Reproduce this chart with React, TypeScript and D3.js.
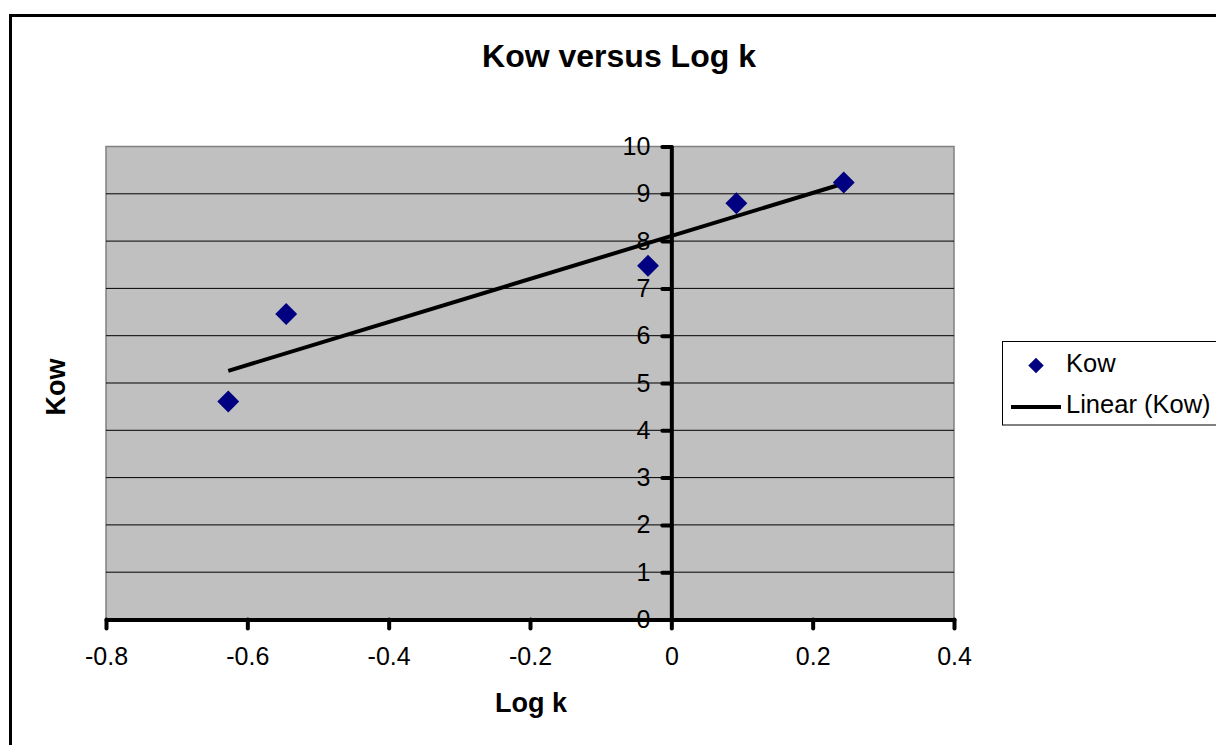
import React, { useEffect, useRef } from 'react';
import * as d3 from 'd3';

// data
const logK = [-0.627, -0.545, -0.033, 0.092, 0.244];
const kow = [4.61, 6.46, 7.48, 8.8, 9.24];
const xTicks = [-0.8, -0.6, -0.4, -0.2, 0, 0.2, 0.4];
const yTicks = [0, 1, 2, 3, 4, 5, 6, 7, 8, 9, 10];
const seriesName = 'Kow';
const trendName = 'Linear (Kow)';

const FONT = 'Arial, "Liberation Sans", sans-serif';

const App = () => {
    const svgRef = useRef<SVGSVGElement>(null);

    useEffect(() => {
        const svg = d3.select(svgRef.current);
        svg.selectAll('*').remove();

        const x = d3.scaleLinear().domain([-0.8, 0.4]).range([106, 954]);
        const y = d3.scaleLinear().domain([0, 10]).range([619.5, 146.5]);

        // outer chart border
        svg.append('rect')
            .attr('x', 10.5).attr('y', 15.5)
            .attr('width', 1300).attr('height', 800)
            .attr('fill', 'white').attr('stroke', 'black').attr('stroke-width', 3);

        // title
        svg.append('text')
            .attr('x', 619).attr('y', 67)
            .attr('text-anchor', 'middle')
            .style('font', `bold 32px ${FONT}`)
            .text('Kow versus Log k');

        // plot area
        svg.append('rect')
            .attr('x', x(-0.8)).attr('y', y(10))
            .attr('width', x(0.4) - x(-0.8)).attr('height', y(0) - y(10))
            .attr('fill', '#c0c0c0').attr('stroke', '#808080').attr('stroke-width', 1.5);

        // gridlines
        svg.append('g').selectAll('line')
            .data(yTicks.filter(v => v > 0 && v < 10))
            .join('line')
            .attr('x1', x(-0.8)).attr('x2', x(0.4))
            .attr('y1', d => y(d)).attr('y2', d => y(d))
            .attr('stroke', 'black').attr('stroke-width', 1);

        // x axis
        const xAxis = d3.axisBottom(x).tickValues(xTicks)
            .tickFormat(d => String(+d))
            .tickSize(9).tickSizeOuter(0).tickPadding(19);
        const gx = svg.append('g')
            .attr('transform', `translate(0,${y(0)})`)
            .call(xAxis);

        // y axis
        const yAxis = d3.axisLeft(y).tickValues(yTicks)
            .tickSize(9).tickSizeOuter(0).tickPadding(12);
        const gy = svg.append('g')
            .attr('transform', `translate(${x(0)},0)`)
            .call(yAxis);

        [gx, gy].forEach(g => {
            g.select('.domain').attr('stroke', 'black').attr('stroke-width', 4)
                .attr('stroke-linecap', 'round');
            g.selectAll('.tick line').attr('stroke', 'black').attr('stroke-width', 4)
                .attr('stroke-linecap', 'round');
            g.selectAll('.tick text')
                .attr('fill', 'black')
                .style('font', `25px ${FONT}`);
        });

        // linear trendline (least squares)
        const mx = d3.mean(logK)!;
        const my = d3.mean(kow)!;
        const sxy = d3.sum(logK, (v, i) => (v - mx) * (kow[i] - my));
        const sxx = d3.sum(logK, v => (v - mx) ** 2);
        const slope = sxy / sxx;
        const icpt = my - slope * mx;
        const ext = d3.extent(logK) as [number, number];
        const line = d3.line<number>().x(d => x(d)).y(d => y(icpt + slope * d));
        svg.append('path')
            .attr('d', line(ext))
            .attr('fill', 'none').attr('stroke', 'black').attr('stroke-width', 4);

        // points
        const diamond = d3.symbol(d3.symbolSquare, 240);
        svg.append('g').selectAll('path')
            .data(logK)
            .join('path')
            .attr('d', diamond)
            .attr('transform', (d, i) => `translate(${x(d)},${y(kow[i])}) rotate(45)`)
            .attr('fill', '#000080');

        // axis titles
        svg.append('text')
            .attr('x', 531).attr('y', 712)
            .attr('text-anchor', 'middle')
            .style('font', `bold 27px ${FONT}`)
            .text('Log k');
        svg.append('text')
            .attr('transform', 'translate(65,387) rotate(-90)')
            .attr('text-anchor', 'middle')
            .style('font', `bold 27px ${FONT}`)
            .text('Kow');

        // legend
        const lg = svg.append('g');
        lg.append('rect')
            .attr('x', 1002.5).attr('y', 341.5)
            .attr('width', 300).attr('height', 83.5)
            .attr('fill', 'white').attr('stroke', 'black').attr('stroke-width', 1);
        lg.append('path')
            .attr('d', d3.symbol(d3.symbolSquare, 120)())
            .attr('transform', 'translate(1036,365.5) rotate(45)')
            .attr('fill', '#000080');
        lg.append('text')
            .attr('x', 1066).attr('y', 372)
            .style('font', `25.5px ${FONT}`)
            .text(seriesName);
        lg.append('line')
            .attr('x1', 1011).attr('x2', 1061)
            .attr('y1', 407).attr('y2', 407)
            .attr('stroke', 'black').attr('stroke-width', 4);
        lg.append('text')
            .attr('x', 1066).attr('y', 413)
            .style('font', `25.5px ${FONT}`)
            .text(trendName);
    }, []);

    return (
        <svg ref={svgRef} width={1216} height={745}
            style={{ position: 'absolute', left: 0, top: 0, background: 'white' }} />
    );
};

export default App;
